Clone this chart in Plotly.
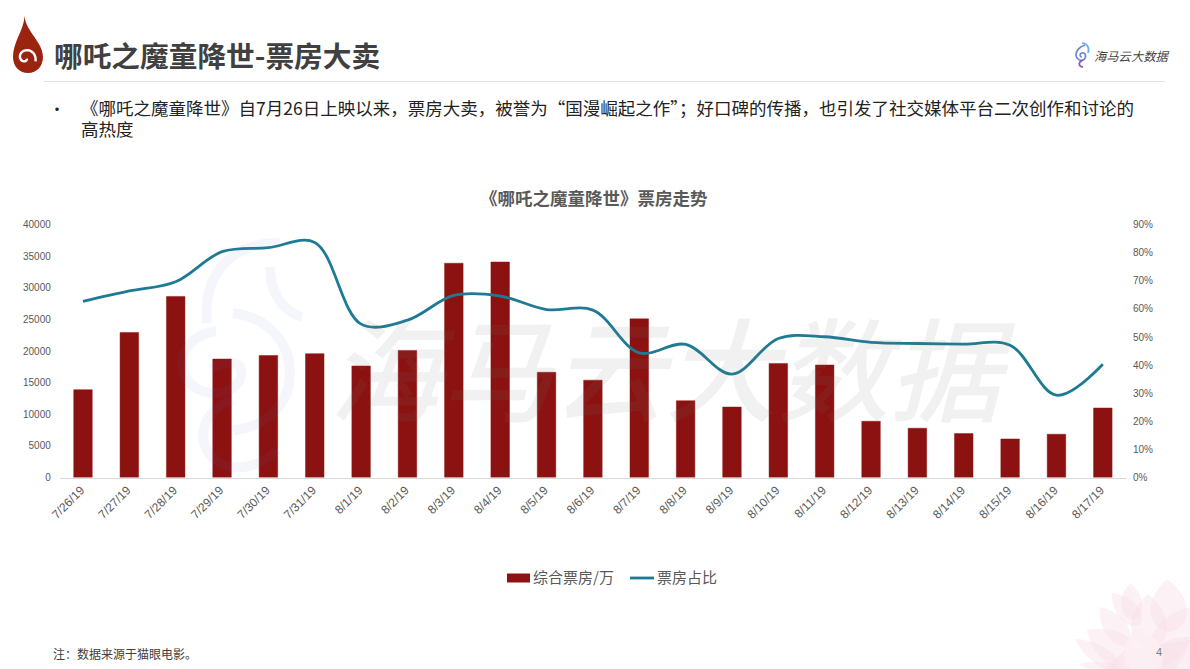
import numpy as np
import plotly.graph_objects as go

W, H = 1190, 669
CJK = "Noto Sans CJK SC"
LATIN = "Liberation Sans"

dates = ["7/26/19", "7/27/19", "7/28/19", "7/29/19", "7/30/19", "7/31/19", "8/1/19", "8/2/19",
         "8/3/19", "8/4/19", "8/5/19", "8/6/19", "8/7/19", "8/8/19", "8/9/19", "8/10/19",
         "8/11/19", "8/12/19", "8/13/19", "8/14/19", "8/15/19", "8/16/19", "8/17/19"]
box_office = [13900, 22950, 28650, 18750, 19300, 19600, 17650, 20100, 33900, 34100, 16650, 15400,
              25100, 12150, 11150, 18050, 17800, 8900, 7800, 6950, 6100, 6850, 11000]
share = [0.627, 0.664, 0.697, 0.804, 0.818, 0.837, 0.546, 0.560, 0.648, 0.646, 0.598, 0.596,
         0.444, 0.474, 0.368, 0.495, 0.501, 0.481, 0.477, 0.475, 0.471, 0.293, 0.403]
bar_name = "综合票房/万"
line_name = "票房占比"
BAR_COLOR = "#8B1210"
LINE_COLOR = "#1F7B94"


def px(path):
    # shape paths are written in page pixels, paper refs need 0-1
    out = []
    for tok in path.split():
        if "," in tok:
            cmd = tok[0] if tok[0].isalpha() else ""
            x, y = tok.lstrip("MLCQZ").split(",")
            out.append(f"{cmd}{float(x) / W:.5f},{1 - float(y) / H:.5f}")
        else:
            out.append(tok)
    return " ".join(out)


def deco(path, fill=None, line=None, width=0, layer="above"):
    return dict(type="path", xref="paper", yref="paper", path=px(path), layer=layer,
                fillcolor=fill or "rgba(0,0,0,0)",
                line=dict(color=line or "rgba(0,0,0,0)", width=width))


def spiral(cx, cy, r0, r1, a0, a1, n=40):
    a = np.linspace(a0, a1, n)
    r = np.linspace(r0, r1, n)
    pts = [f"{cx + ri * np.cos(ai):.1f},{cy + ri * np.sin(ai):.1f}" for ri, ai in zip(r, a)]
    return "M" + pts[0] + " " + " ".join("L" + p for p in pts[1:])


def petal(tx, ty, bx, by, w, fill="rgba(247,222,230,0.42)"):
    dx, dy = bx - tx, by - ty
    ln = (dx ** 2 + dy ** 2) ** 0.5
    nx, ny = -dy / ln * w, dx / ln * w
    p = (f"M{tx},{ty} C{tx + dx * .35 + nx:.1f},{ty + dy * .35 + ny:.1f} "
         f"{tx + dx * .9 + nx:.1f},{ty + dy * .9 + ny:.1f} {bx},{by} "
         f"C{tx + dx * .9 - nx:.1f},{ty + dy * .9 - ny:.1f} "
         f"{tx + dx * .35 - nx:.1f},{ty + dy * .35 - ny:.1f} {tx},{ty} Z")
    return deco(p, fill=fill, layer="below")


shapes = []

# lotus in the bottom right corner
for t in [(1167, 579, 1170, 632, 24), (1130, 583, 1133, 620, 14), (1112, 593, 1140, 625, 14),
          (1148, 594, 1150, 650, 24), (1100, 607, 1128, 645, 15), (1190, 607, 1155, 665, 24),
          (1087, 630, 1140, 665, 22), (1075, 639, 1120, 669, 12), (1079, 664, 1125, 672, 8),
          (1190, 637, 1150, 672, 18)]:
    shapes.append(petal(*t))
shapes.append(deco("M1105,669 L1125,650 L1190,640 L1190,669 Z", fill="rgba(247,224,231,0.5)", layer="below"))
shapes.append(petal(1135, 628, 1150, 676, 26, fill="rgba(251,238,242,0.85)"))

# faint logo of the watermark
soft = "rgba(110,125,205,0.065)"
for p in ["M207,323 C203,280 225,243 280,243",
          "M302,317 C280,310 270,290 270,267",
          "M233,313 C270,318 290,345 290,372 C290,405 265,428 233,430",
          "M216,331 C195,333 180,350 182,367 C185,385 200,393 215,393 C235,393 245,378 240,367 C236,362 225,361 212,369",
          "M233,400 C215,405 203,420 203,437 C205,458 225,470 243,467 C258,465 270,458 277,450"]:
    shapes.append(deco(p, line=soft, width=10))

# flame logo
shapes.append(deco("M24.5,16 C24,30 13,42 13,57 C13,67 20,73 28,73 C37,73 43,66 43,57 C43,42 26,32 24.5,16 Z",
                   fill="#9B2410"))
shapes.append(deco(spiral(25.5, 58, 1.5, 10.5, 0.5, 6.6), line="white", width=2.4))

# seahorse of the small brand logo
shapes.append(deco("M1082,43 C1087,43 1090,48 1088,53", line="#62B2F0", width=1.7))
shapes.append(deco("M1085,45 C1078,47 1076,52 1076,55 C1076,59 1080,61 1083,60 C1087,58 1086,52 1082,53 C1079,54 1080,57 1082,57",
                   line="#6C86D8", width=1.7))
shapes.append(deco("M1083,60 C1078,62 1078,66 1083,67", line="#8A58BE", width=1.7))

# header rule
shapes.append(dict(type="line", xref="paper", yref="paper", x0=44 / W, x1=1165 / W,
                   y0=1 - 81.5 / H, y1=1 - 81.5 / H, line=dict(color="#E4E4E4", width=1)))

# legend keys, the legend itself can't give this swatch shape
shapes.append(dict(type="rect", xref="paper", yref="paper", x0=507 / W, x1=530 / W,
                   y0=1 - 582.5 / H, y1=1 - 573.5 / H, fillcolor=BAR_COLOR, line=dict(width=0)))
shapes.append(dict(type="line", xref="paper", yref="paper", x0=630 / W, x1=654 / W,
                   y0=1 - 578 / H, y1=1 - 578 / H, line=dict(color=LINE_COLOR, width=2.8)))


def note(text, x, y, size, color="#404040", anchor="left", font=CJK, weight=None):
    f = dict(family=font, size=size, color=color)
    if weight:
        f["weight"] = weight
    return dict(text=text, xref="paper", yref="paper", x=x / W, y=1 - y / H, showarrow=False,
                xanchor=anchor, yanchor="middle", align="left", borderpad=0, font=f)


# line gap comes from the annotation font size, the glyph size from the spans
BODY = '<span style="font-size:17.5px">{}</span>'
body_text = (BODY.format("《哪吒之魔童降世》自7月26日上映以来，票房大卖，被誉为“国漫崛起之作”；好口碑的传播，也引发了社交媒体平台二次创作和讨论的")
             + "<br>" + BODY.format("高热度"))

annotations = [
    note("<b>哪吒之魔童降世-票房大卖</b>", 53, 54, 28.7),
    note("•", 48, 108, 16, color="#222222"),
    note(body_text, 79.5, 118.5, 16.15, color="#222222"),
    note("<b>《哪吒之魔童降世》票房走势</b>", 594, 198, 17.5, color="#595959", anchor="center"),
    note(bar_name, 532, 576.5, 15, color="#595959"),
    note(line_name, 656, 576.5, 15, color="#595959"),
    note("注：数据来源于猫眼电影。", 52, 653, 12, color="#404040"),
    note("4", 1155, 652, 11, color="#7F7F7F", font=LATIN),
    note("<i>海马云大数据</i>", 1093, 56, 12.3, color="#444444"),
    note("<i>海马云大数据</i>", 672, 364, 112, color="rgba(120,120,120,0.1)", anchor="center", weight=500),
]

fig = go.Figure()
fig.add_trace(go.Bar(x=dates, y=box_office, name=bar_name, width=0.4,
                     marker=dict(color=BAR_COLOR, line=dict(color="rgba(139,18,16,0.45)", width=1))))
fig.add_trace(go.Scatter(x=dates, y=share, name=line_name, yaxis="y2", mode="lines",
                         line=dict(color=LINE_COLOR, width=2.8, shape="spline", smoothing=1.0)))

fig.update_layout(
    width=W, height=H, margin=dict(l=0, r=0, t=0, b=0),
    paper_bgcolor="white", plot_bgcolor="rgba(0,0,0,0)", showlegend=False,
    font=dict(family=LATIN, size=10, color="#595959"),
    shapes=shapes, annotations=annotations,
    xaxis=dict(domain=[59.8 / W, 1126 / W], type="category", tickangle=-45, ticks="", showgrid=False,
               showline=True, linecolor="#D9D9D9", linewidth=1, automargin=False, ticklabelshift=-2,
               tickfont=dict(family=LATIN, size=12, color="#595959")),
    yaxis=dict(domain=[1 - 477.5 / H, 1 - 224.7 / H], range=[0, 40000], dtick=5000, showgrid=False,
               zeroline=False, ticks="", ticklabelstandoff=8, automargin=False, tickformat="d",
               tickfont=dict(family=LATIN, size=10, color="#595959")),
    yaxis2=dict(overlaying="y", side="right", range=[0, 0.9], dtick=0.1, tickformat=".0%",
                showgrid=False, zeroline=False, ticks="", ticklabelstandoff=6, automargin=False,
                tickfont=dict(family=LATIN, size=10, color="#595959")),
)

fig.write_html("out.html", config={"displayModeBar": False},
               post_script="document.body.style.margin='0';")
